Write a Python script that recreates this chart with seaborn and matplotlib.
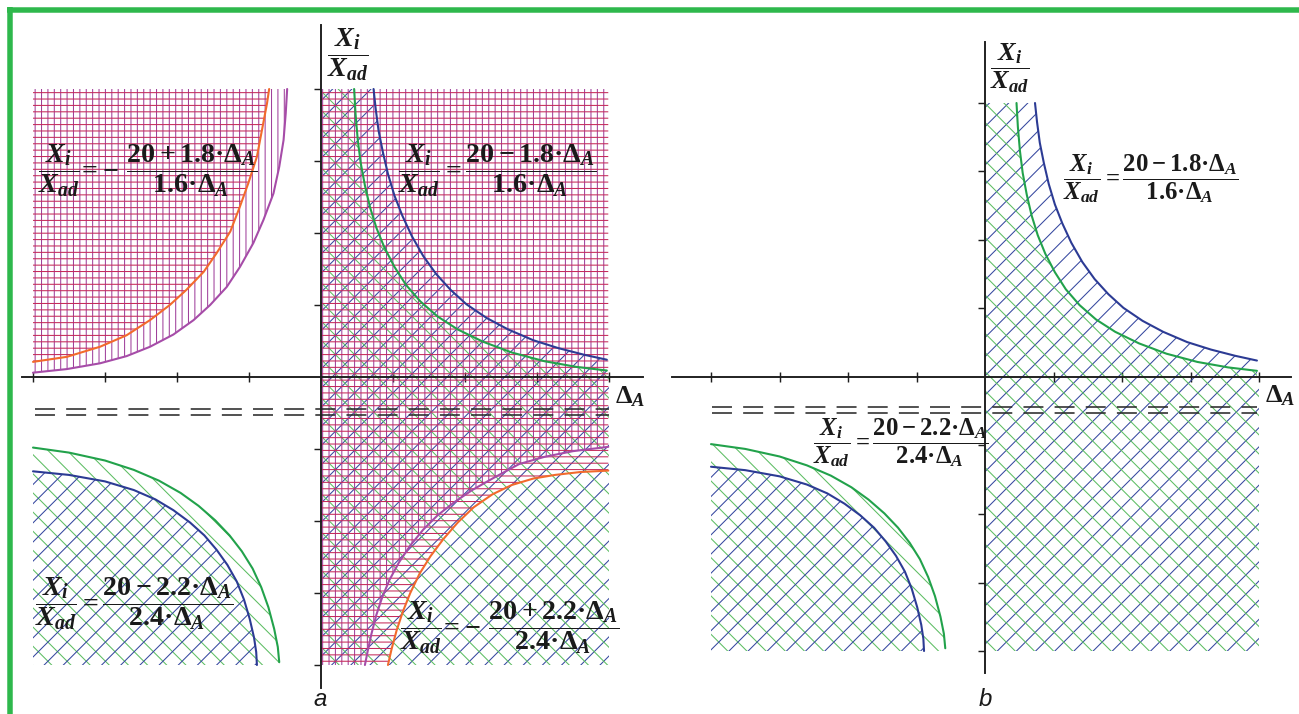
import matplotlib
matplotlib.use("Agg")
import matplotlib.pyplot as plt
from matplotlib.lines import Line2D
import seaborn as sns

# ---------------------------------------------------------------------------
# Boundary curves, in axis tick units (one tick = one unit)
# ---------------------------------------------------------------------------
# upper-left quadrant of panel a
ul_orange_x = [-4.00, -3.53, -3.07, -2.70, -2.375, -2.10, -1.87, -1.63, -1.45, -1.26, -1.125, -1.01, -0.89, -0.82, -0.75, -0.72]
ul_orange_y = [0.21, 0.28, 0.42, 0.58, 0.79, 1.00, 1.21, 1.46, 1.72, 2.02, 2.37, 2.69, 3.06, 3.43, 3.80, 4.00]
ul_purple_x = [-4.00, -3.53, -3.07, -2.70, -2.375, -2.05, -1.77, -1.54, -1.31, -1.125, -0.94, -0.80, -0.66, -0.58, -0.52, -0.49, -0.47]
ul_purple_y = [0.06, 0.11, 0.19, 0.29, 0.42, 0.59, 0.79, 1.00, 1.25, 1.53, 1.86, 2.18, 2.55, 2.92, 3.29, 3.66, 4.00]

# upper-right quadrant (panels a and b)
ur_blue_x = [0.73, 0.76, 0.80, 0.86, 0.93, 1.02, 1.13, 1.26, 1.42, 1.60, 1.80, 2.02, 2.30, 2.60, 2.95, 3.30, 3.65, 3.97]
ur_blue_y = [4.00, 3.72, 3.42, 3.12, 2.82, 2.52, 2.24, 1.96, 1.68, 1.43, 1.21, 1.01, 0.82, 0.66, 0.51, 0.40, 0.31, 0.24]
ur_green_x = [0.46, 0.48, 0.51, 0.55, 0.61, 0.68, 0.77, 0.88, 1.02, 1.18, 1.38, 1.62, 1.90, 2.25, 2.65, 3.10, 3.55, 3.97]
ur_green_y = [4.00, 3.65, 3.30, 2.98, 2.66, 2.36, 2.07, 1.80, 1.53, 1.28, 1.05, 0.84, 0.66, 0.49, 0.34, 0.22, 0.14, 0.09]

# lower-left quadrant (panels a and b)
ll_green_x = [-4.00, -3.50, -3.00, -2.60, -2.25, -1.95, -1.70, -1.47, -1.27, -1.10, -0.95, -0.83, -0.73, -0.65, -0.60, -0.58]
ll_green_y = [-0.98, -1.05, -1.16, -1.29, -1.44, -1.61, -1.79, -1.99, -2.20, -2.42, -2.66, -2.92, -3.20, -3.50, -3.75, -3.96]
ll_blue_x = [-4.00, -3.50, -3.00, -2.60, -2.30, -2.05, -1.82, -1.62, -1.45, -1.30, -1.17, -1.07, -0.99, -0.93, -0.90, -0.89]
ll_blue_y = [-1.31, -1.36, -1.45, -1.57, -1.70, -1.85, -2.02, -2.20, -2.40, -2.61, -2.84, -3.09, -3.36, -3.62, -3.82, -4.00]

# lower-right quadrant of panel a
lr_orange_x = [0.93, 0.98, 1.05, 1.14, 1.24, 1.37, 1.52, 1.70, 1.90, 2.12, 2.38, 2.65, 2.95, 3.25, 3.60, 3.99]
lr_orange_y = [-4.00, -3.78, -3.52, -3.25, -3.00, -2.73, -2.49, -2.25, -2.02, -1.81, -1.63, -1.50, -1.41, -1.36, -1.32, -1.30]
lr_purple_x = [0.61, 0.65, 0.70, 0.77, 0.85, 0.95, 1.08, 1.24, 1.42, 1.62, 1.85, 2.10, 2.40, 2.75, 3.10, 3.50, 3.99]
lr_purple_y = [-4.00, -3.80, -3.57, -3.30, -3.06, -2.82, -2.58, -2.34, -2.12, -1.92, -1.74, -1.57, -1.40, -1.21, -1.11, -1.03, -0.97]

# double dashed reference line
dash_levels = [-0.44, -0.53]

tick_values = [-4, -3, -2, -1, 1, 2, 3, 4]

lab_ul = r"$\dfrac{X_i}{X_{ad}}\!=\!-\,\dfrac{20+1.8·\Delta_A}{1.6·\Delta_A}$"
lab_ur = r"$\dfrac{X_i}{X_{ad}}=\dfrac{20-1.8·\Delta_A}{1.6·\Delta_A}$"
lab_ll = r"$\dfrac{X_i}{X_{ad}}=\dfrac{20-2.2·\Delta_A}{2.4·\Delta_A}$"
lab_lr = r"$\dfrac{X_i}{X_{ad}}\!=\!-\,\dfrac{20+2.2·\Delta_A}{2.4·\Delta_A}$"
lab_y = r"$\dfrac{X_i}{X_{ad}}$"
lab_x = r"$\Delta_A$"

# ---------------------------------------------------------------------------
# colours
# ---------------------------------------------------------------------------
C_VERT = "#a0409b"
C_HOR = "#c52a5a"
C_PURPLE = "#a64ca8"
C_ORANGE = "#f26a2c"
C_BLUE = "#2c3b94"
C_BLUE_H = "#35479f"
C_GREEN = "#22a24b"
C_GREEN_H = "#5cbd62"
C_AXIS = "#1e1e1e"
C_FRAME = "#2eb84c"

DPI = 115
W, H = 1299, 714

sns.set_theme(style="white")
plt.rcParams.update({
    "mathtext.fontset": "custom",
    "mathtext.rm": "Liberation Serif:bold",
    "mathtext.it": "Liberation Serif:italic:bold",
    "mathtext.bf": "Liberation Serif:bold",
    "hatch.linewidth": 0.65,
    "lines.scale_dashes": True,
})

fig = plt.figure(figsize=(W / DPI, H / DPI), dpi=DPI, facecolor="white")


def make_axes(left, right, top, bottom, ox, oy, unit, x_axis_start):
    ax = fig.add_axes([left / W, 1 - bottom / H, (right - left) / W, (bottom - top) / H])
    ax.set_facecolor("none")
    ax.set_autoscale_on(False)
    ax.set_xlim((left - ox) / unit, (right - ox) / unit)
    ax.set_ylim((oy - bottom) / unit, (oy - top) / unit)
    for s in ("top", "right"):
        ax.spines[s].set_visible(False)
    for s in ("left", "bottom"):
        ax.spines[s].set_position(("data", 0))
        ax.spines[s].set_color(C_AXIS)
        ax.spines[s].set_linewidth(1.2)
        ax.spines[s].set_zorder(4)
    ax.spines["bottom"].set_bounds(x_axis_start, 4.47)
    ax.spines["left"].set_bounds(-4.32, 4.89)
    ax.set_xticks(tick_values)
    ax.set_yticks(tick_values)
    ax.tick_params(axis="x", bottom=True, direction="inout", length=6.5, width=0.9,
                   color=C_AXIS, labelbottom=False)
    ax.tick_params(axis="y", left=True, direction="out", length=4.5, width=0.9,
                   color=C_AXIS, labelleft=False)
    ax.grid(False)
    return ax


def hatch_fill(ax, x, y1, y2, color, pattern, z):
    ax.fill_between(x, y1, y2, facecolor="none", edgecolor=color, hatch=pattern,
                    linewidth=0, zorder=z)


def curve(ax, x, y, color):
    sns.lineplot(x=x, y=y, ax=ax, color=color, linewidth=1.3, sort=False,
                 estimator=None, zorder=3.5)


def dashed_pair(ax, x0, x1):
    for lvl in dash_levels:
        ax.plot([x0, x1], [lvl, lvl], color="#2a2a2a", linewidth=1.0,
                linestyle=(0, (12.5, 7.0)), zorder=3.6, dash_capstyle="butt")


def common_blue_green(ax):
    # upper-right: blue band over green band
    bx = [0.0] + ur_blue_x
    by = [4.0] + ur_blue_y
    gx = [0.0] + ur_green_x
    gy = [4.0] + ur_green_y
    hatch_fill(ax, bx, 0, by, C_BLUE_H, "//", 1)
    hatch_fill(ax, gx, 0, gy, C_GREEN_H, "\\\\", 1)
    # lower-left quadrant
    hatch_fill(ax, ll_green_x, -4, ll_green_y, C_GREEN_H, "\\\\", 1)
    hatch_fill(ax, ll_blue_x, -4, ll_blue_y, C_BLUE_H, "//", 1)
    # lower-right quadrant fully cross-hatched
    hatch_fill(ax, [0, 4], -4, 0, C_BLUE_H, "//", 1)
    hatch_fill(ax, [0, 4], -4, 0, C_GREEN_H, "\\\\", 1)
    curve(ax, ur_blue_x, ur_blue_y, C_BLUE)
    curve(ax, ur_green_x, ur_green_y, C_GREEN)
    curve(ax, ll_green_x, ll_green_y, C_GREEN)
    curve(ax, ll_blue_x, ll_blue_y, C_BLUE)


TXT = dict(color="#1a1a1a", zorder=6, ha="left", va="center")

# ---------------------------- panel a ---------------------------------------
ax_a = make_axes(14, 660, 14, 700, 321, 377, 72.0, -4.15)
common_blue_green(ax_a)

# upper-left: vertical hatch inside the purple boundary, horizontal inside orange
hatch_fill(ax_a, ul_purple_x, ul_purple_y, 4, C_VERT, "|||", 2)
hatch_fill(ax_a, ul_orange_x, ul_orange_y, 4, C_HOR, "---", 2)
curve(ax_a, ul_orange_x, ul_orange_y, C_ORANGE)
curve(ax_a, ul_purple_x, ul_purple_y, C_PURPLE)

# right half: grid above the lower-right boundaries
hatch_fill(ax_a, [0.0] + lr_purple_x, [-4.0] + lr_purple_y, 4, C_VERT, "|||", 2)
hatch_fill(ax_a, [0.0] + lr_orange_x, [-4.0] + lr_orange_y, 4, C_HOR, "---", 2)
curve(ax_a, lr_purple_x, lr_purple_y, C_PURPLE)
curve(ax_a, lr_orange_x, lr_orange_y, C_ORANGE)

dashed_pair(ax_a, -3.97, 4.0)

FS_A = 17.5
ax_a.text(-3.93, 2.86, lab_ul, fontsize=FS_A, **TXT)
ax_a.text(1.07, 2.86, lab_ur, fontsize=FS_A, **TXT)
ax_a.text(-3.97, -3.15, lab_ll, fontsize=FS_A, **TXT)
ax_a.text(1.10, -3.48, lab_lr, fontsize=FS_A, **TXT)
ax_a.text(0.08, 4.47, lab_y, fontsize=17.5, **TXT)
ax_a.text(4.08, -0.27, lab_x, fontsize=16.5, **TXT)

# ---------------------------- panel b ---------------------------------------
ax_b = make_axes(665, 1299, 14, 700, 985, 377, 68.5, -4.57)
common_blue_green(ax_b)
dashed_pair(ax_b, -3.99, 3.97)

FS_B = 15.5
ax_b.text(1.14, 2.90, lab_ur, fontsize=FS_B, **TXT)
ax_b.text(-2.51, -0.95, lab_ll, fontsize=FS_B, **TXT)
ax_b.text(0.07, 4.51, lab_y, fontsize=16.5, **TXT)
ax_b.text(4.09, -0.27, lab_x, fontsize=16.5, **TXT)

# panel letters
fig.text(320 / W, 1 - 700 / H, "a", fontsize=15, style="italic",
         family="Liberation Sans", color="#1a1a1a", ha="center", va="center")
fig.text(985 / W, 1 - 699 / H, "b", fontsize=15, style="italic",
         family="Liberation Sans", color="#1a1a1a", ha="center", va="center")

# green corner frame
frame_lw = 5.5 * 72 / DPI
fig.add_artist(Line2D([6.5 / W, 1.0], [1 - 10 / H, 1 - 10 / H], transform=fig.transFigure,
                      color=C_FRAME, linewidth=frame_lw, solid_capstyle="butt"))
fig.add_artist(Line2D([9.5 / W, 9.5 / W], [0.0, 1 - 7 / H], transform=fig.transFigure,
                      color=C_FRAME, linewidth=frame_lw, solid_capstyle="butt"))

fig.savefig("out.png", dpi=DPI, facecolor="white")
